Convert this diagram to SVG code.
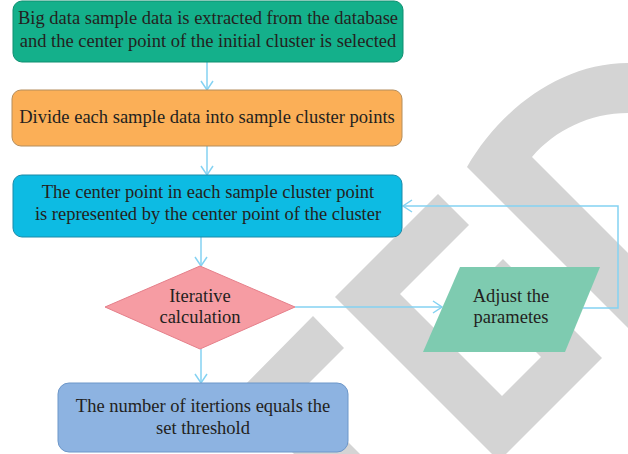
<svg xmlns="http://www.w3.org/2000/svg" width="628" height="454" viewBox="0 0 628 454">
  <style>
    .wm { fill: #d4d4d4; stroke: none; }
    .lbl { font-family: "Liberation Serif", "Times New Roman", serif; font-size: 18.5px; fill: #231f20; text-anchor: middle; }
    .edge { fill: none; stroke: #84d2f2; stroke-width: 1.5; }
  </style>
  <defs>
    <marker id="arrow" markerUnits="userSpaceOnUse" markerWidth="12" markerHeight="14" refX="10" refY="7" orient="auto">
      <path d="M1,1 L10,7 L1,13" fill="none" stroke="#84d2f2" stroke-width="1.5"/>
    </marker>
  </defs>

  <rect width="628" height="454" fill="#ffffff"/>

  <!-- background logo shapes -->
  <g id="watermark">
    <path class="wm" d="M467,167 C500,110 560,63 628,63 L628,113 C590,113 555,130 532,157 L628,253 L628,328 Z"/>
    <path class="wm" d="M438,194 L469,225 L400,294 L502,396 L541,357 L473,289 L503,259 L602,358 L499,461 L335,297 Z"/>
    <path class="wm" d="M313,316 L344,348 L299,393 L360,454 L294,454 L235,395 Z"/>
  </g>

  <!-- connectors -->
  <g id="connectors">
    <line class="edge" x1="207" y1="62" x2="207" y2="90" marker-end="url(#arrow)"/>
    <line class="edge" x1="207" y1="146" x2="207" y2="175" marker-end="url(#arrow)"/>
    <line class="edge" x1="201" y1="237" x2="201" y2="266" marker-end="url(#arrow)"/>
    <line class="edge" x1="201" y1="349" x2="201" y2="383" marker-end="url(#arrow)"/>
    <line class="edge" x1="295" y1="307" x2="442" y2="307" marker-end="url(#arrow)"/>
    <polyline class="edge" points="583,308 618,308 618,206 403,206" marker-end="url(#arrow)"/>
  </g>

  <g id="extract">
    <rect x="13" y="1" width="390" height="61" rx="9" fill="#14b08b" stroke="#0f8f70" stroke-width="1"/>
    <text class="lbl" x="208" y="24">Big data sample data is extracted from the database</text>
    <text class="lbl" x="208" y="47">and the center point of the initial cluster is selected</text>
  </g>

  <g id="divide">
    <rect x="12" y="90" width="390" height="56" rx="9" fill="#fbaf57" stroke="#b48d5c" stroke-width="1"/>
    <text class="lbl" x="207" y="123">Divide each sample data into sample cluster points</text>
  </g>

  <g id="center">
    <rect x="13" y="175" width="389" height="62" rx="9" fill="#0dbbe3" stroke="#1b8aa8" stroke-width="1"/>
    <text class="lbl" x="208" y="198">The center point in each sample cluster point</text>
    <text class="lbl" x="208" y="220">is represented by the center point of the cluster</text>
  </g>

  <g id="iterate">
    <polygon points="200,266 295,307 200,349 105,307" fill="#f69ca3" stroke="#e57f8a" stroke-width="1"/>
    <text class="lbl" x="200" y="302">Iterative</text>
    <text class="lbl" x="200" y="323">calculation</text>
  </g>

  <g id="adjust">
    <polygon points="460,267 600,267 565,352 423,352" fill="#7ecbb0"/>
    <text class="lbl" x="511" y="302">Adjust the</text>
    <text class="lbl" x="511" y="323">parametes</text>
  </g>

  <g id="threshold">
    <rect x="58" y="383" width="290" height="69" rx="11" fill="#8db3e1" stroke="#6d97c9" stroke-width="1"/>
    <text class="lbl" x="203" y="412">The number of itertions equals the</text>
    <text class="lbl" x="203" y="434">set threshold</text>
  </g>
</svg>
